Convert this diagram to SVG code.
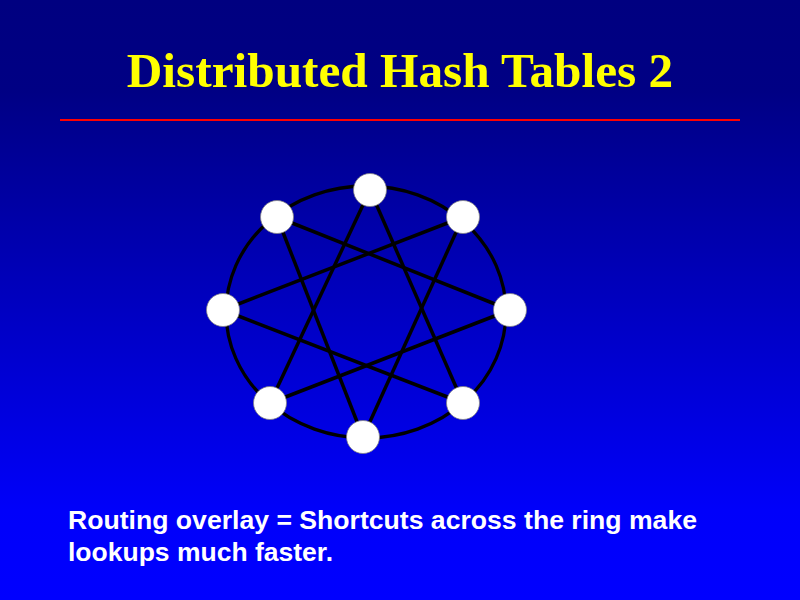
<svg xmlns="http://www.w3.org/2000/svg" width="800" height="600" viewBox="0 0 800 600">
  <defs>
    <linearGradient id="bg" x1="0" y1="0" x2="0" y2="600" gradientUnits="userSpaceOnUse">
      <stop offset="0" stop-color="#000080"/>
      <stop offset="0.15" stop-color="#000084"/>
      <stop offset="0.85" stop-color="#0000FA"/>
      <stop offset="1" stop-color="#0000FF"/>
    </linearGradient>
    <style>
      .title { font-family: "Liberation Serif", "Times New Roman", serif; font-weight: bold; font-size: 49.3px; fill: #FFFF00; }
      .body { font-family: "Liberation Sans", Arial, sans-serif; font-weight: bold; font-size: 25px; fill: #FFFFFF; }
      .ring { fill: none; stroke: #000000; stroke-width: 3.3; }
      .chord { stroke: #000000; stroke-width: 3.5; }
      .node circle { fill: #FFFFFF; stroke: #808080; stroke-width: 0.75; }
    </style>
  </defs>

  <rect x="0" y="0" width="800" height="600" fill="url(#bg)"/>

  <text class="title" x="400" y="87" text-anchor="middle">Distributed Hash Tables 2</text>
  <line x1="60" y1="120" x2="740" y2="120" stroke="#FF0000" stroke-width="2"/>

  <g id="connectors">
    <ellipse class="ring" cx="366" cy="312" rx="140" ry="126"/>
    <line class="chord" x1="370" y1="190" x2="463" y2="403"/>
    <line class="chord" x1="370" y1="190" x2="270" y2="403"/>
    <line class="chord" x1="463" y1="217" x2="363" y2="437"/>
    <line class="chord" x1="463" y1="217" x2="223" y2="310"/>
    <line class="chord" x1="510" y1="310" x2="270" y2="403"/>
    <line class="chord" x1="510" y1="310" x2="277" y2="217"/>
    <line class="chord" x1="463" y1="403" x2="223" y2="310"/>
    <line class="chord" x1="363" y1="437" x2="277" y2="217"/>
  </g>

  <g id="node-top" class="node"><circle cx="370" cy="190" r="16.5"/></g>
  <g id="node-top-right" class="node"><circle cx="463" cy="217" r="16.5"/></g>
  <g id="node-right" class="node"><circle cx="510" cy="310" r="16.5"/></g>
  <g id="node-bottom-right" class="node"><circle cx="463" cy="403" r="16.5"/></g>
  <g id="node-bottom" class="node"><circle cx="363" cy="437" r="16.5"/></g>
  <g id="node-bottom-left" class="node"><circle cx="270" cy="403" r="16.5"/></g>
  <g id="node-left" class="node"><circle cx="223" cy="310" r="16.5"/></g>
  <g id="node-top-left" class="node"><circle cx="277" cy="217" r="16.5"/></g>

  <text class="body" x="68" y="529" textLength="629" lengthAdjust="spacingAndGlyphs">Routing overlay = Shortcuts across the ring make</text>
  <text class="body" x="68" y="560.5" textLength="265" lengthAdjust="spacingAndGlyphs">lookups much faster.</text>
</svg>
